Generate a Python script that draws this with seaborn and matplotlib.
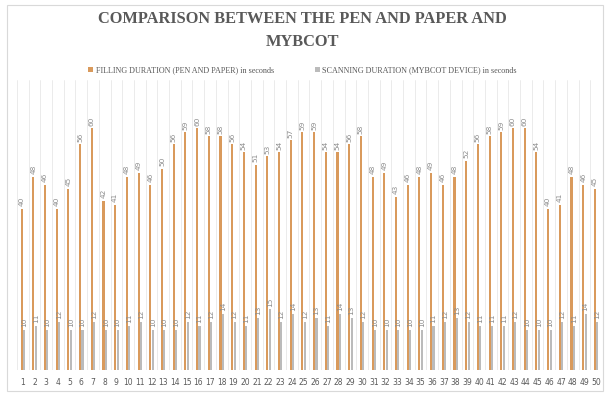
import pandas as pd
import numpy as np
import matplotlib
matplotlib.use("Agg")
import matplotlib.pyplot as plt
from matplotlib.patches import Rectangle, Patch
import seaborn as sns

# Data
respondents = list(range(1, 51))
filling = [40, 48, 46, 40, 45, 56, 60, 42, 41, 48,
           49, 46, 50, 56, 59, 60, 58, 58, 56, 54,
           51, 53, 54, 57, 59, 59, 54, 54, 56, 58,
           48, 49, 43, 46, 48, 49, 46, 48, 52, 56,
           58, 59, 60, 60, 54, 40, 41, 48, 46, 45]
scanning = [10, 11, 10, 12, 10, 10, 12, 10, 10, 11,
            12, 10, 10, 10, 12, 11, 12, 14, 12, 11,
            13, 15, 12, 14, 12, 13, 11, 14, 13, 12,
            10, 10, 10, 10, 10, 11, 12, 13, 12, 11,
            11, 11, 12, 10, 10, 10, 12, 11, 14, 12]
series_names = ["FILLING DURATION (PEN AND PAPER) in seconds",
                "SCANNING DURATION (MYBCOT DEVICE) in seconds"]
colors = ["#D99A5C", "#BBBBBB"]

df = pd.DataFrame({
    "respondent": respondents * 2,
    "seconds": filling + scanning,
    "series": [series_names[0]] * 50 + [series_names[1]] * 50,
})

sns.set_style("white")

fig = plt.figure(figsize=(6.05, 3.96), dpi=100)
ax = fig.add_axes([0.028, 0.066, 0.967, 0.732])

sns.barplot(data=df, x="respondent", y="seconds", hue="series",
            palette=colors, width=0.42, gap=0.15, saturation=1,
            linewidth=0, ax=ax, legend=False)

for cont in ax.containers:
    ax.bar_label(cont, rotation=90, padding=2, fontsize=5.3, color="#8c8c8c")

ax.set_ylim(0, 72)
ax.set_xlim(-0.5, 49.5)
ax.set_yticks([])
ax.set_xlabel("")
ax.set_ylabel("")
ax.set_xticks(range(50))
ax.set_xticklabels([str(r) for r in respondents], fontsize=5.5, color="#595959")
ax.tick_params(axis="x", length=0, pad=6)
ax.set_xticks(np.arange(-0.5, 50, 1), minor=True)
ax.tick_params(axis="x", which="minor", length=0)
ax.grid(which="minor", axis="x", color="#e8e8e8", linewidth=0.6)
ax.set_axisbelow(True)
sns.despine(ax=ax, left=True, bottom=True)

fig.text(0.5, 0.922, "COMPARISON BETWEEN THE PEN AND PAPER AND\nMYBCOT",
         ha="center", va="center", fontsize=11.8, fontweight="bold",
         family="Liberation Serif", color="#595959", linespacing=1.6)

handles = [Patch(facecolor=c, edgecolor="none") for c in colors]
fig.legend(handles, series_names, loc="center", bbox_to_anchor=(0.5, 0.823),
           ncol=2, frameon=False, handlelength=0.6,
           handleheight=0.6, columnspacing=5, handletextpad=0.3,
           prop={"family": "Liberation Serif", "size": 5.9})
for t in fig.legends[0].get_texts():
    t.set_color("#595959")

fig.patches.append(Rectangle((0.012, 0.012), 0.984, 0.975, transform=fig.transFigure,
                             fill=False, edgecolor="#d9d9d9", linewidth=0.8))

fig.savefig("out.png", dpi=100)
